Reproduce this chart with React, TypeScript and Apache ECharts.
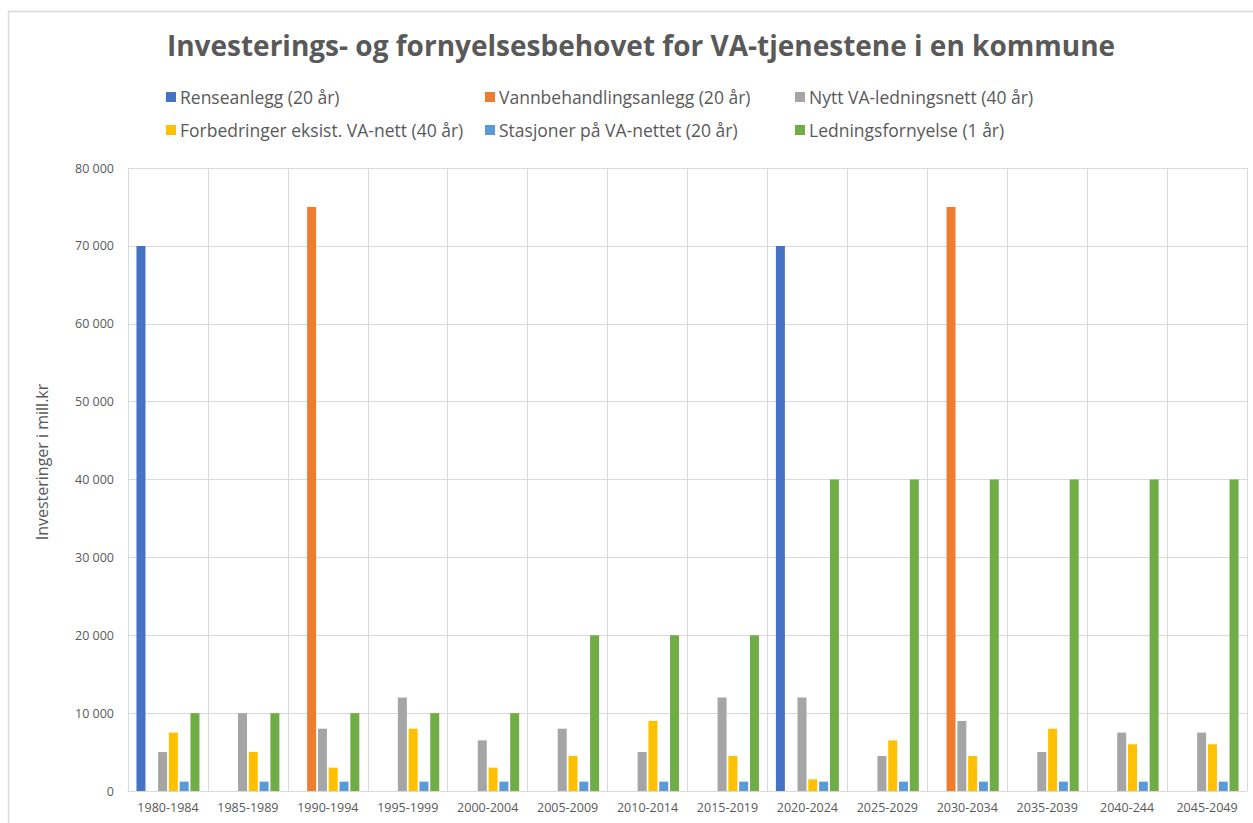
import React, { useEffect, useRef } from "react";
import * as echarts from "echarts";

const categories = [
  "1980-1984", "1985-1989", "1990-1994", "1995-1999", "2000-2004", "2005-2009", "2010-2014",
  "2015-2019", "2020-2024", "2025-2029", "2030-2034", "2035-2039", "2040-244", "2045-2049",
];
const renseanlegg = [70000, 0, 0, 0, 0, 0, 0, 0, 70000, 0, 0, 0, 0, 0];
const vannbehandling = [0, 0, 75000, 0, 0, 0, 0, 0, 0, 0, 75000, 0, 0, 0];
const nyttNett = [5000, 10000, 8000, 12000, 6500, 8000, 5000, 12000, 12000, 4500, 9000, 5000, 7500, 7500];
const forbedringer = [7500, 5000, 3000, 8000, 3000, 4500, 9000, 4500, 1500, 6500, 4500, 8000, 6000, 6000];
const stasjoner = [1200, 1200, 1200, 1200, 1200, 1200, 1200, 1200, 1200, 1200, 1200, 1200, 1200, 1200];
const ledningsfornyelse = [10000, 10000, 10000, 10000, 10000, 20000, 20000, 20000, 40000, 40000, 40000, 40000, 40000, 40000];

const seriesNames = [
  "Renseanlegg (20 år)",
  "Vannbehandlingsanlegg (20 år)",
  "Nytt VA-ledningsnett (40 år)",
  "Forbedringer eksist. VA-nett (40 år)",
  "Stasjoner på VA-nettet (20 år)",
  "Ledningsfornyelse (1 år)",
];
const seriesData = [renseanlegg, vannbehandling, nyttNett, forbedringer, stasjoner, ledningsfornyelse];
const colors = ["#4472C4", "#ED7D31", "#A5A5A5", "#FFC000", "#5B9BD5", "#70AD47"];
const yAxisTitle = "Investeringer i mill.kr";
const chartTitle = "Investerings- og fornyelsesbehovet for VA-tjenestene i en kommune";

const FONT = "'Open Sans', 'Noto Sans', sans-serif";
const TXT = "#595959";

export default function App() {
  const ref = useRef<HTMLDivElement>(null);
  useEffect(() => {
    if (!ref.current) return;
    const chart = echarts.init(ref.current, undefined, { renderer: "svg" });
    const legendPos = [
      [161, 83], [480, 83], [790, 83],
      [161, 116], [480, 116], [790, 116],
    ];
    chart.setOption({
      animation: false,
      color: colors,
      textStyle: { fontFamily: FONT },
      title: {
        text: chartTitle,
        left: 636,
        textAlign: "center",
        top: 26,
        textStyle: { fontFamily: FONT, fontSize: 28, fontWeight: "bold", color: TXT },
      },
      legend: seriesNames.map((n, i) => ({
        data: [n],
        left: legendPos[i][0],
        top: legendPos[i][1],
        itemWidth: 10,
        itemHeight: 10,
        itemGap: 5,
        icon: "rect",
        textStyle: { fontFamily: FONT, fontSize: 17.5, color: TXT, padding: [0, 0, 0, -1] },
      })),
      grid: { left: 128, right: 6, top: 168, bottom: 32, containLabel: false },
      xAxis: {
        type: "category",
        data: categories,
        axisLine: { lineStyle: { color: "#d9d9d9" } },
        axisTick: { show: false },
        splitLine: { show: true, interval: 0, lineStyle: { color: "#d9d9d9" } },
        axisLabel: { color: TXT, fontSize: 12.5, interval: 0, margin: 10 },
      },
      yAxis: {
        type: "value",
        min: 0,
        max: 80000,
        interval: 10000,
        axisLine: { show: false },
        axisTick: { show: false },
        splitLine: { lineStyle: { color: "#d9d9d9" } },
        axisLabel: {
          color: TXT,
          fontSize: 12.5,
          margin: 14,
          formatter: (v: number) => String(v).replace(/\B(?=(\d{3})+(?!\d))/g, " "),
        },
      },
      graphic: [
        {
          type: "rect",
          left: 6,
          top: 9,
          shape: { width: 1300, height: 900 },
          style: { fill: "none", stroke: "#d9d9d9", lineWidth: 1.5 },
          silent: true,
          z: -1,
        },
        {
          type: "text",
          x: 42,
          y: 462,
          rotation: Math.PI / 2,
          style: {
            text: yAxisTitle,
            fill: TXT,
            fontFamily: FONT,
            fontSize: 16,
            align: "center",
            verticalAlign: "middle",
          },
          silent: true,
        },
      ],
      series: seriesNames.map((n, i) => ({
        name: n,
        type: "bar",
        data: seriesData[i],
        barWidth: 9,
        barGap: "20%",
        itemStyle: { color: colors[i] },
      })),
    });
    return () => chart.dispose();
  }, []);
  return (
    <div
      ref={ref}
      style={{ position: "absolute", left: 0, top: 0, width: 1253, height: 823, background: "#fff" }}
    />
  );
}
